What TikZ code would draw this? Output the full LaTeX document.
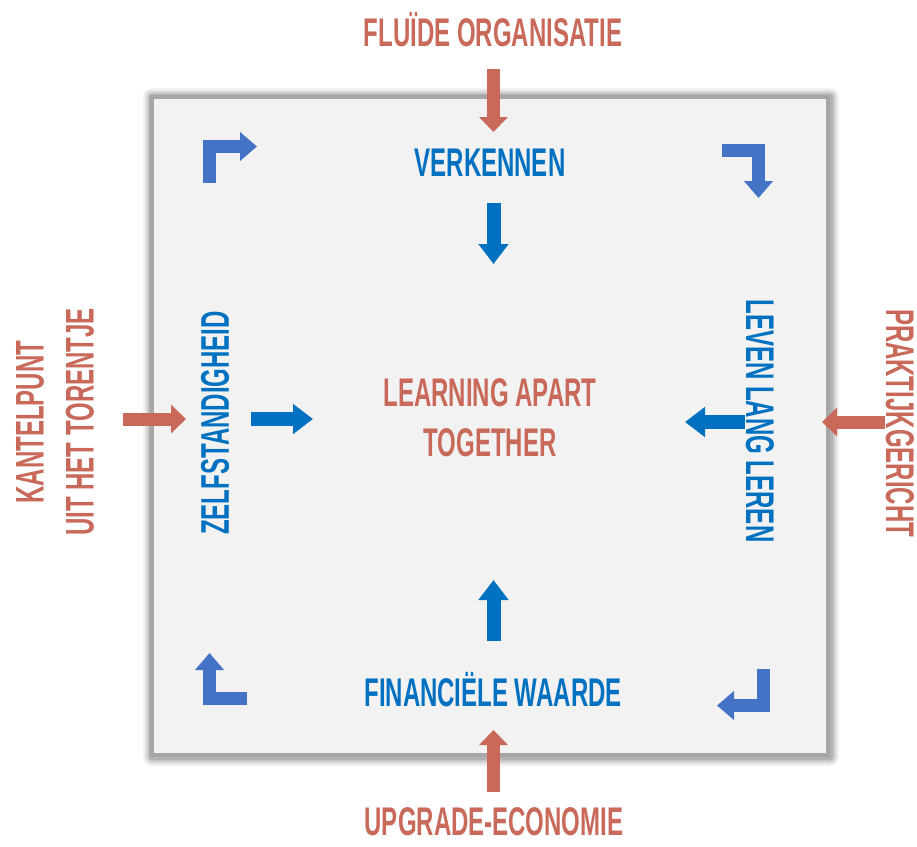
\documentclass[tikz,border=0pt]{standalone}
\usepackage{fontspec}
\setmainfont[FakeStretch=0.6]{Liberation Sans}
\usetikzlibrary{arrows.meta}
\definecolor{cred}{HTML}{C9695A}
\definecolor{cblue}{HTML}{0070C0}
\definecolor{cblue2}{HTML}{4472C4}
\definecolor{boxfill}{HTML}{F2F2F2}
\definecolor{boxline}{HTML}{A6A6A6}
\tikzset{
  lbl/.style={font=\fontsize{40}{50}\selectfont\bfseries, inner sep=0pt, align=center},
  redlbl/.style={lbl, text=cred},
  bluelbl/.style={lbl, text=cblue},
  redarrow/.style={draw=cred, line width=13pt, -{Triangle[width=28pt,length=15pt]}},
  bluearrow/.style={draw=cblue, line width=14pt, -{Triangle[width=29pt,length=20pt]}},
  cornerarrow/.style={draw=cblue2, line width=13pt, line join=miter, -{Triangle[width=28pt,length=17pt]}},
}
\begin{document}
\begin{tikzpicture}[x=1pt,y=-1pt]
\useasboundingbox (0,0) rectangle (917,846);
\fill[white] (0,0) rectangle (917,846);
% shadow
\foreach \d/\o in {9/0.05,7/0.07,5/0.09,3/0.12}{
  \fill[black,opacity=\o,rounded corners=\d pt] (152-\d,97-\d) rectangle (828+\d+2,755+\d+2);
}
\draw[boxline, line width=4pt, fill=boxfill] (152,97) rectangle (828,755);

% texts
\node[redlbl] (top) at (493,30) {FLUÏDE ORGANISATIE};
\node[bluelbl] (verk) at (490,163) {VERKENNEN};
\node[redlbl] (lat) at (490,418) {LEARNING APART\\TOGETHER};
\node[bluelbl] (fin) at (493,690) {FINANCIËLE WAARDE};
\node[redlbl] (bot) at (494,822) {UPGRADE-ECONOMIE};
\node[redlbl, rotate=90] (kant) at (55,422) {KANTELPUNT\\UIT HET TORENTJE};
\node[bluelbl, rotate=90] (zelf) at (215,423) {ZELFSTANDIGHEID};
\node[bluelbl, rotate=-90] (leven) at (760,421) {LEVEN LANG LEREN};
\node[redlbl, rotate=-90] (prak) at (900,423) {PRAKTIJKGERICHT};

% straight arrows
\coordinate (rt1) at (493.5,69); \coordinate (rt2) at (493.5,132);
\draw[redarrow] (rt1) -- (rt2);
\coordinate (bt1) at (493.5,203); \coordinate (bt2) at (493.5,264);
\draw[bluearrow] (bt1) -- (bt2);
\coordinate (rl1) at (123,419); \coordinate (rl2) at (186,419);
\draw[redarrow] (rl1) -- (rl2);
\coordinate (bl1) at (251,419); \coordinate (bl2) at (313,419);
\draw[bluearrow] (bl1) -- (bl2);
\coordinate (rr1) at (885,422); \coordinate (rr2) at (822,422);
\draw[redarrow] (rr1) -- (rr2);
\coordinate (br1) at (745,422); \coordinate (br2) at (685,422);
\draw[bluearrow] (br1) -- (br2);
\coordinate (bb1) at (493.5,641); \coordinate (bb2) at (493.5,580);
\draw[bluearrow] (bb1) -- (bb2);
\coordinate (rb1) at (493.5,792); \coordinate (rb2) at (493.5,730);
\draw[redarrow] (rb1) -- (rb2);

% corner arrows
\coordinate (c1a) at (209.5,183); \coordinate (c1b) at (209.5,146.5); \coordinate (c1c) at (257,146.5);
\draw[cornerarrow] (c1a) -- (c1b) -- (c1c);
\coordinate (c2a) at (722,150.5); \coordinate (c2b) at (758.5,150.5); \coordinate (c2c) at (758.5,198);
\draw[cornerarrow] (c2a) -- (c2b) -- (c2c);
\coordinate (c3a) at (247,698.5); \coordinate (c3b) at (209.5,698.5); \coordinate (c3c) at (209.5,653);
\draw[cornerarrow] (c3a) -- (c3b) -- (c3c);
\coordinate (c4a) at (763.5,669); \coordinate (c4b) at (763.5,705.5); \coordinate (c4c) at (717,705.5);
\draw[cornerarrow] (c4a) -- (c4b) -- (c4c);
\end{tikzpicture}
\end{document}
